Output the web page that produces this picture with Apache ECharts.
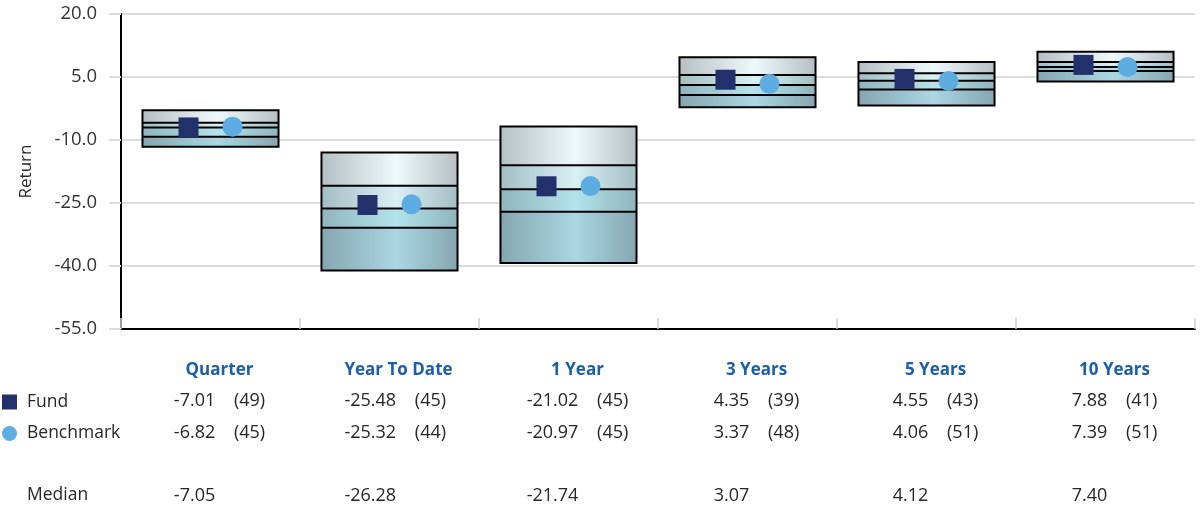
<!DOCTYPE html>
<html>
<head>
<meta charset="utf-8">
<script src="https://cdn.jsdelivr.net/npm/echarts@6/dist/echarts.min.js"></script>
<style>
  html, body { margin: 0; padding: 0; background: #fff; }
  #chart { width: 1203px; height: 508px; }
</style>
</head>
<body>
<div id="chart"></div>
<script>
const categories = ['Quarter', 'Year To Date', '1 Year', '3 Years', '5 Years', '10 Years']

// universe percentiles (5th = top of box, 95th = bottom)
const p5 = [-2.9, -13.0, -6.8, 9.7, 8.6, 11.0]
const p25 = [-5.9, -20.9, -16.0, 5.5, 5.9, 8.6]
const median = [-7.05, -26.28, -21.74, 3.07, 4.12, 7.40]
const p75 = [-9.2, -30.9, -27.1, 0.7, 2.0, 6.4]
const p95 = [-11.6, -41.1, -39.3, -2.2, -1.8, 3.9]

const fund = [-7.01, -25.48, -21.02, 4.35, 4.55, 7.88]
const fundRank = [49, 45, 45, 39, 43, 41]
const bench = [-6.82, -25.32, -20.97, 3.37, 4.06, 7.39]
const benchRank = [45, 44, 45, 48, 51, 51]

const yTicks = [-55, -40, -25, -10, 5, 20]

const FONT = '"Open Sans", "Noto Sans", sans-serif'

const hGrad = (edge, mid) => ({
  type: 'linear', x: 0, y: 0, x2: 1, y2: 0,
  colorStops: [
    { offset: 0, color: edge },
    { offset: 0.55, color: mid },
    { offset: 1, color: edge },
  ],
})
const segFills = [
  hGrad('#b6bfc3', '#eff8fa'),
  hGrad('#a3bec4', '#d9f0f4'),
  hGrad('#8fb5bd', '#b4e3eb'),
  hGrad('#86a6b0', '#aad7e2'),
]

const boxData = categories.map((c, i) => [i, p5[i], p25[i], median[i], p75[i], p95[i]])

const chart = echarts.init(document.getElementById('chart'))

chart.setOption({
  animation: false,
  backgroundColor: '#fff',
  grid: { left: 121, right: 8, top: 14, bottom: 179, outerBoundsMode: 'none', containLabel: false },
  legend: {
    orient: 'vertical',
    left: 2,
    top: 393,
    padding: 0,
    itemWidth: 15,
    itemHeight: 15,
    itemGap: 13.5,
    selectedMode: false,
    textStyle: { fontFamily: FONT, fontSize: 17.5, color: '#262626', padding: [0, 0, 0, 5] },
    data: [
      { name: 'Fund', icon: 'rect' },
      { name: 'Benchmark', icon: 'circle' },
    ],
  },
  graphic: [{
    type: 'text',
    left: 27,
    top: 486,
    style: { text: 'Median', font: '17.5px ' + FONT, fill: '#262626' },
  }],
  xAxis: {
    type: 'category',
    data: categories,
    axisLine: { onZero: false, lineStyle: { color: '#000', width: 2 } },
    axisTick: { show: true, inside: true, length: 11, lineStyle: { color: '#d0d0d0', width: 1.5 } },
    splitLine: { show: false },
    axisLabel: {
      interval: 0,
      margin: 25,
      lineHeight: 31.5,
      padding: [0, 0, 0, 18],
      formatter: (value, i) =>
        `{h|${value}}\n` +
        `{v|${fund[i].toFixed(2)}    (${fundRank[i]})}\n` +
        `{v|${bench[i].toFixed(2)}    (${benchRank[i]})}\n` +
        `{v| }\n` +
        `{v|${median[i].toFixed(2)}}`,
      rich: {
        h: { fontFamily: FONT, fontWeight: 'bold', fontSize: 17, color: '#1b5ea9', align: 'center', lineHeight: 31.5 },
        v: { fontFamily: FONT, fontSize: 18, color: '#262626', align: 'left', lineHeight: 31.5 },
      },
    },
  },
  yAxis: {
    type: 'value',
    min: yTicks[0],
    max: yTicks[yTicks.length - 1],
    interval: 15,
    name: 'Return',
    nameLocation: 'middle',
    nameGap: 86,
    nameTextStyle: { fontFamily: FONT, fontSize: 17, color: '#262626' },
    axisLine: { show: true, lineStyle: { color: '#000', width: 2 } },
    axisTick: { show: true, length: 12, lineStyle: { color: '#dcdcdc', width: 2 } },
    axisLabel: {
      margin: 24,
      fontFamily: FONT,
      fontSize: 18.5,
      color: '#333',
      formatter: v => v.toFixed(1),
    },
    splitLine: { lineStyle: { color: '#dcdcdc', width: 2 } },
  },
  series: [
    {
      type: 'custom',
      name: 'Universe',
      data: boxData,
      z: 2,
      renderItem: (params, api) => {
        const x = api.value(0)
        const vals = [1, 2, 3, 4, 5].map(d => api.value(d))
        const cx = api.coord([x, 0])[0]
        const bw = api.size([1, 0])[0] * 0.76
        const left = cx - bw / 2
        const ys = vals.map(v => api.coord([x, v])[1])
        const children = []
        for (let s = 0; s < 4; s++) {
          children.push({
            type: 'rect',
            shape: { x: left, y: ys[s], width: bw, height: ys[s + 1] - ys[s] },
            style: { fill: segFills[s] },
          })
        }
        for (let s = 1; s < 4; s++) {
          children.push({
            type: 'line',
            shape: { x1: left, y1: ys[s], x2: left + bw, y2: ys[s] },
            style: { stroke: '#000', lineWidth: 2 },
          })
        }
        children.push({
          type: 'rect',
          shape: { x: left, y: ys[0], width: bw, height: ys[4] - ys[0] },
          style: { fill: 'none', stroke: '#000', lineWidth: 2 },
        })
        return { type: 'group', children }
      },
    },
    {
      type: 'scatter',
      name: 'Fund',
      data: fund,
      symbol: 'rect',
      symbolSize: 20,
      symbolOffset: [-22, 0],
      itemStyle: { color: '#22316c', opacity: 1 },
      z: 5,
    },
    {
      type: 'scatter',
      name: 'Benchmark',
      data: bench,
      symbol: 'circle',
      symbolSize: 20,
      symbolOffset: [22, 0],
      itemStyle: { color: '#5eade2', opacity: 1 },
      z: 5,
    },
  ],
})
</script>
</body>
</html>
